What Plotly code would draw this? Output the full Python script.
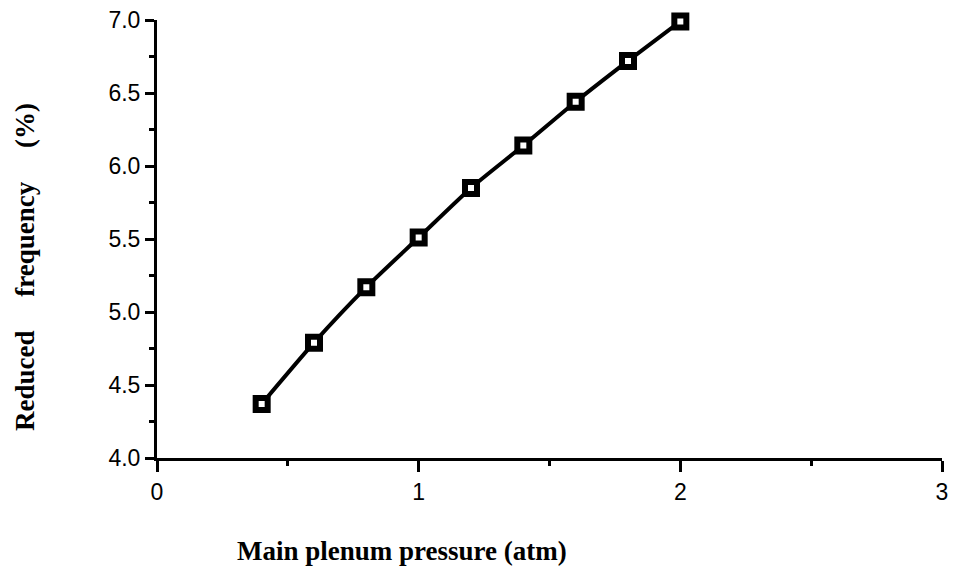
import plotly.graph_objects as go

pressure = [0.4, 0.6, 0.8, 1.0, 1.2, 1.4, 1.6, 1.8, 2.0]
reduced_freq = [4.37, 4.79, 5.17, 5.51, 5.85, 6.14, 6.44, 6.72, 6.99]

x_ticks = [0, 1, 2, 3]
y_ticks = [4.0, 4.5, 5.0, 5.5, 6.0, 6.5, 7.0]

fig = go.Figure()
fig.add_trace(go.Scatter(
    x=pressure, y=reduced_freq, mode="lines+markers",
    line=dict(color="black", width=4, shape="spline", smoothing=0.6),
    marker=dict(symbol="square", size=12, color="white",
                line=dict(color="black", width=6)),
    cliponaxis=False, showlegend=False,
))

tick_font = dict(family="Liberation Sans, Arial, sans-serif", size=23, color="black")

fig.update_xaxes(
    range=[0, 3], tickvals=x_ticks, ticktext=[str(v) for v in x_ticks],
    showline=True, linecolor="black", linewidth=3,
    ticks="outside", ticklen=11, tickwidth=3, tickcolor="black",
    minor=dict(dtick=0.5, ticks="outside", ticklen=5, tickwidth=2.5, tickcolor="black"),
    showgrid=False, zeroline=False, tickfont=tick_font,
)
fig.update_yaxes(
    range=[4, 7], tickvals=y_ticks, ticktext=[f"{v:.1f}" for v in y_ticks],
    showline=True, linecolor="black", linewidth=3,
    ticks="outside", ticklen=9, tickwidth=3, tickcolor="black",
    minor=dict(dtick=0.25, ticks="outside", ticklen=5, tickwidth=2.5, tickcolor="black"),
    showgrid=False, zeroline=False, tickfont=tick_font,
)

title_font = dict(family="Liberation Serif, Times New Roman, serif", size=27, color="black")
fig.add_annotation(
    text="<b>Main plenum pressure (atm)</b>", xref="paper", yref="paper",
    x=(404 - 157) / (948 - 157), y=-(551 - 458) / (458 - 20),
    xanchor="center", yanchor="middle", showarrow=False, font=title_font,
)
fig.add_annotation(
    text="<b>Reduced&nbsp;&nbsp;&nbsp;&nbsp;&nbsp;frequency&nbsp;&nbsp;&nbsp;&nbsp;&nbsp;(%)</b>",
    xref="paper", yref="paper",
    x=-(157 - 24) / (948 - 157), y=(458 - 267) / (458 - 20),
    xanchor="center", yanchor="middle", textangle=-90, showarrow=False, font=title_font,
)

fig.update_layout(
    width=955, height=569,
    margin=dict(l=157, r=7, t=20, b=111),
    plot_bgcolor="white", paper_bgcolor="white",
)

fig.write_html("out.html")
